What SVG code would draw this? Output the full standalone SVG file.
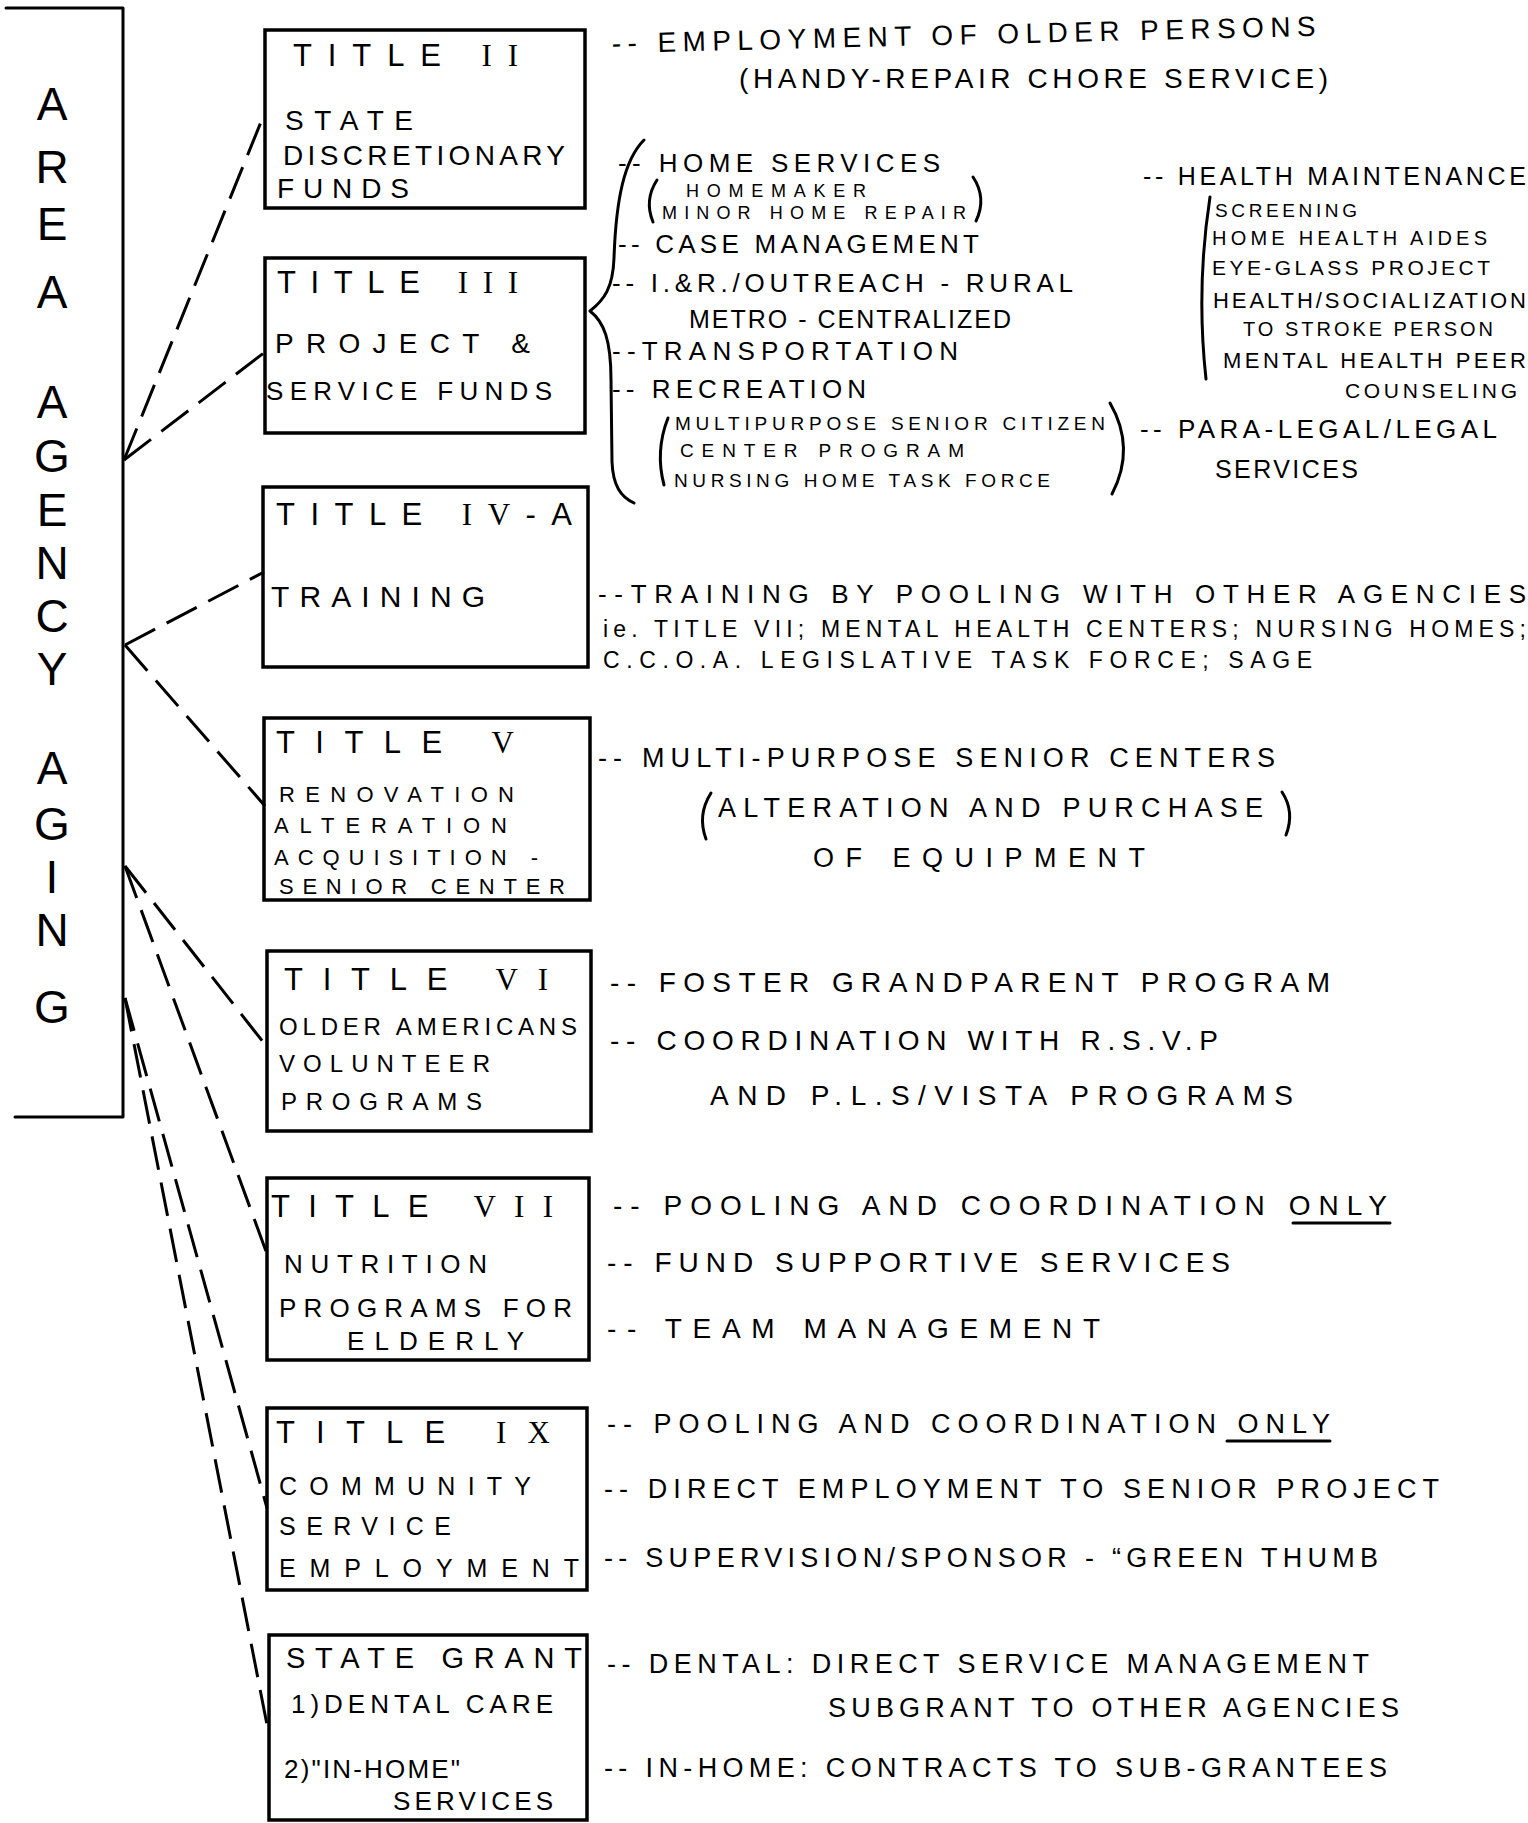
<svg xmlns="http://www.w3.org/2000/svg" width="1528" height="1823" viewBox="0 0 1528 1823">
<style>
  .bg { fill: #ffffff; }
  .box { fill: none; stroke: #000; stroke-width: 3.5; }
  .ln { fill: none; stroke: #000; stroke-width: 3; stroke-linecap: round; stroke-linejoin: round; }
  .conn { fill: none; stroke: #000; stroke-width: 3; stroke-dasharray: 34 13; }
  text { font-family: "Liberation Sans", Arial, sans-serif; fill: #000; }
  .rn { font-family: "Liberation Serif", "Times New Roman", serif; }
  .big { font-size: 46px; }
  .ttl { font-size: 31px; }
</style>
<rect class="bg" x="0" y="0" width="1528" height="1823"/>

<g id="area-agency-aging">
  <path class="ln" d="M 6 8 L 123 8 L 123 1117 L 15 1117"/>
  <text class="big" text-anchor="middle"><tspan x="52" y="120">A</tspan><tspan x="52" y="183">R</tspan><tspan x="52" y="240">E</tspan><tspan x="52" y="308">A</tspan><tspan x="52" y="418">A</tspan><tspan x="52" y="472">G</tspan><tspan x="52" y="526">E</tspan><tspan x="52" y="579">N</tspan><tspan x="52" y="632">C</tspan><tspan x="52" y="685">Y</tspan><tspan x="52" y="784">A</tspan><tspan x="52" y="840">G</tspan><tspan x="52" y="893">I</tspan><tspan x="52" y="946">N</tspan><tspan x="52" y="1023">G</tspan></text>
</g>

<g id="connectors">
  <line class="conn" x1="124" y1="460" x2="265" y2="112"/>
  <line class="conn" x1="124" y1="460" x2="265" y2="352"/>
  <line class="conn" x1="125" y1="645" x2="264" y2="572"/>
  <line class="conn" x1="125" y1="645" x2="265" y2="806"/>
  <line class="conn" x1="125" y1="866" x2="267" y2="1047"/>
  <line class="conn" x1="125" y1="866" x2="267" y2="1254"/>
  <line class="conn" x1="125" y1="998" x2="267" y2="1508"/>
  <line class="conn" x1="125" y1="998" x2="269" y2="1735"/>
</g>

<g id="title-ii">
  <rect class="box" x="265" y="30" width="320" height="178"/>
  <text class="ttl" x="293" y="66" textLength="225" lengthAdjust="spacing">TITLE <tspan class="rn">II</tspan></text>
  <text x="285" y="130" font-size="28" textLength="128" lengthAdjust="spacing">STATE</text>
  <text x="283" y="165" font-size="28" textLength="282" lengthAdjust="spacing">DISCRETIONARY</text>
  <text x="277" y="198" font-size="28" textLength="132" lengthAdjust="spacing">FUNDS</text>
</g>
<g id="title-ii-notes">
  <text x="612" y="53" font-size="28" textLength="704" lengthAdjust="spacing" transform="rotate(-1.4 612 53)">-- EMPLOYMENT  OF OLDER PERSONS</text>
  <text x="739" y="88" font-size="28" textLength="589" lengthAdjust="spacing">(HANDY-REPAIR CHORE SERVICE)</text>
</g>

<g id="title-iii">
  <rect class="box" x="265" y="258" width="320" height="175"/>
  <text class="ttl" x="277" y="293" textLength="241" lengthAdjust="spacing">TITLE <tspan class="rn">III</tspan></text>
  <text x="275" y="353" font-size="28" textLength="255" lengthAdjust="spacing">PROJECT &amp;</text>
  <text x="266" y="400" font-size="26" textLength="286" lengthAdjust="spacing">SERVICE FUNDS</text>
</g>
<g id="title-iii-notes">
  <path class="ln" d="M 644 140 C 624 160 616 200 614 258 C 613 288 604 300 590 311 C 604 322 611 340 611 380 L 612 462 C 613 486 621 497 634 503"/>
  <text x="618" y="172" font-size="26" textLength="322" lengthAdjust="spacing">-- HOME SERVICES</text>
  <path class="ln" d="M 657 180 Q 644 200 653 222"/>
  <path class="ln" d="M 973 177 Q 987 198 976 221"/>
  <text x="686" y="197" font-size="18" textLength="180" lengthAdjust="spacing">HOMEMAKER</text>
  <text x="662" y="219" font-size="18" textLength="304" lengthAdjust="spacing">MINOR HOME REPAIR</text>
  <text x="618" y="253" font-size="26" textLength="361" lengthAdjust="spacing">-- CASE MANAGEMENT</text>
  <text x="612" y="292" font-size="26" textLength="461" lengthAdjust="spacing">-- I.&amp;R./OUTREACH - RURAL</text>
  <text x="689" y="328" font-size="25" textLength="322" lengthAdjust="spacing">METRO - CENTRALIZED</text>
  <text x="612" y="360" font-size="26" textLength="346" lengthAdjust="spacing">--TRANSPORTATION</text>
  <text x="612" y="398" font-size="26" textLength="254" lengthAdjust="spacing">-- RECREATION</text>
  <path class="ln" d="M 668 418 Q 655 451 664 485"/>
  <path class="ln" d="M 1110 403 Q 1136 448 1112 494"/>
  <text x="675" y="430" font-size="19" textLength="430" lengthAdjust="spacing">MULTIPURPOSE SENIOR CITIZEN</text>
  <text x="680" y="457" font-size="19" textLength="284" lengthAdjust="spacing">CENTER PROGRAM</text>
  <text x="674" y="487" font-size="19" textLength="376" lengthAdjust="spacing">NURSING HOME TASK FORCE</text>
  <text x="1143" y="185" font-size="25" textLength="383" lengthAdjust="spacing">-- HEALTH MAINTENANCE</text>
  <path class="ln" d="M 1210 197 Q 1196 288 1206 379"/>
  <text x="1215" y="217" font-size="19" textLength="142" lengthAdjust="spacing">SCREENING</text>
  <text x="1212" y="245" font-size="20" textLength="275" lengthAdjust="spacing">HOME HEALTH AIDES</text>
  <text x="1212" y="275" font-size="21" textLength="278" lengthAdjust="spacing">EYE-GLASS PROJECT</text>
  <text x="1213" y="308" font-size="22" textLength="313" lengthAdjust="spacing">HEALTH/SOCIALIZATION</text>
  <text x="1243" y="336" font-size="20" textLength="250" lengthAdjust="spacing">TO STROKE PERSON</text>
  <text x="1223" y="368" font-size="22" textLength="303" lengthAdjust="spacing">MENTAL HEALTH PEER</text>
  <text x="1345" y="398" font-size="21" textLength="172" lengthAdjust="spacing">COUNSELING</text>
  <text x="1140" y="438" font-size="26" textLength="357" lengthAdjust="spacing">-- PARA-LEGAL/LEGAL</text>
  <text x="1215" y="478" font-size="25" textLength="143" lengthAdjust="spacing">SERVICES</text>
</g>

<g id="title-iv-a">
  <rect class="box" x="263" y="487" width="325" height="180"/>
  <text class="ttl" x="276" y="525" textLength="296" lengthAdjust="spacing">TITLE <tspan class="rn">IV</tspan>-A</text>
  <text x="271" y="607" font-size="30" textLength="214" lengthAdjust="spacing">TRAINING</text>
</g>
<g id="title-iv-a-notes">
  <text x="598" y="603" font-size="26" textLength="928" lengthAdjust="spacing">--TRAINING BY POOLING WITH OTHER AGENCIES</text>
  <text x="603" y="637" font-size="23" textLength="923" lengthAdjust="spacing">ie. TITLE VII; MENTAL HEALTH CENTERS; NURSING HOMES;</text>
  <text x="603" y="668" font-size="23" textLength="709" lengthAdjust="spacing">C.C.O.A. LEGISLATIVE TASK FORCE; SAGE</text>
</g>

<g id="title-v">
  <rect class="box" x="264" y="718" width="326" height="182"/>
  <text class="ttl" x="276" y="753" textLength="238" lengthAdjust="spacing">TITLE <tspan class="rn">V</tspan></text>
  <text x="279" y="802" font-size="22" textLength="235" lengthAdjust="spacing">RENOVATION</text>
  <text x="274" y="833" font-size="22" textLength="233" lengthAdjust="spacing">ALTERATION</text>
  <text x="274" y="865" font-size="22" textLength="264" lengthAdjust="spacing">ACQUISITION -</text>
  <text x="279" y="894" font-size="22" textLength="286" lengthAdjust="spacing">SENIOR CENTER</text>
</g>
<g id="title-v-notes">
  <text x="598" y="767" font-size="27" textLength="677" lengthAdjust="spacing">-- MULTI-PURPOSE  SENIOR CENTERS</text>
  <path class="ln" d="M 711 793 Q 697 815 706 839"/>
  <path class="ln" d="M 1282 792 Q 1295 812 1286 835"/>
  <text x="718" y="817" font-size="27" textLength="545" lengthAdjust="spacing">ALTERATION AND PURCHASE</text>
  <text x="813" y="867" font-size="27" textLength="332" lengthAdjust="spacing">OF EQUIPMENT</text>
</g>

<g id="title-vi">
  <rect class="box" x="267" y="951" width="324" height="180"/>
  <text class="ttl" x="284" y="990" textLength="264" lengthAdjust="spacing">TITLE <tspan class="rn">VI</tspan></text>
  <text x="279" y="1035" font-size="24" textLength="298" lengthAdjust="spacing">OLDER AMERICANS</text>
  <text x="279" y="1072" font-size="24" textLength="211" lengthAdjust="spacing">VOLUNTEER</text>
  <text x="281" y="1110" font-size="24" textLength="201" lengthAdjust="spacing">PROGRAMS</text>
</g>
<g id="title-vi-notes">
  <text x="610" y="992" font-size="28" textLength="720" lengthAdjust="spacing">-- FOSTER GRANDPARENT PROGRAM</text>
  <text x="610" y="1050" font-size="28" textLength="608" lengthAdjust="spacing">-- COORDINATION WITH R.S.V.P</text>
  <text x="710" y="1105" font-size="28" textLength="583" lengthAdjust="spacing">AND P.L.S/VISTA PROGRAMS</text>
</g>

<g id="title-vii">
  <rect class="box" x="267" y="1178" width="322" height="182"/>
  <text class="ttl" x="271" y="1217" textLength="282" lengthAdjust="spacing">TITLE <tspan class="rn">VII</tspan></text>
  <text x="284" y="1273" font-size="26" textLength="203" lengthAdjust="spacing">NUTRITION</text>
  <text x="279" y="1317" font-size="26" textLength="293" lengthAdjust="spacing">PROGRAMS FOR</text>
  <text x="347" y="1350" font-size="26" textLength="177" lengthAdjust="spacing">ELDERLY</text>
</g>
<g id="title-vii-notes">
  <text x="613" y="1215" font-size="28" textLength="774" lengthAdjust="spacing">-- POOLING AND COORDINATION  ONLY</text>
  <line class="ln" x1="1293" y1="1223" x2="1390" y2="1223"/>
  <text x="607" y="1272" font-size="28" textLength="623" lengthAdjust="spacing">-- FUND SUPPORTIVE SERVICES</text>
  <text x="607" y="1338" font-size="28" textLength="493" lengthAdjust="spacing">-- TEAM MANAGEMENT</text>
</g>

<g id="title-ix">
  <rect class="box" x="267" y="1408" width="320" height="182"/>
  <text class="ttl" x="276" y="1443" textLength="274" lengthAdjust="spacing">TITLE <tspan class="rn">IX</tspan></text>
  <text x="279" y="1495" font-size="25" textLength="252" lengthAdjust="spacing">COMMUNITY</text>
  <text x="279" y="1535" font-size="25" textLength="172" lengthAdjust="spacing">SERVICE</text>
  <text x="279" y="1577" font-size="25" textLength="300" lengthAdjust="spacing">EMPLOYMENT</text>
</g>
<g id="title-ix-notes">
  <text x="607" y="1433" font-size="27" textLength="723" lengthAdjust="spacing">-- POOLING AND COORDINATION ONLY</text>
  <line class="ln" x1="1227" y1="1441" x2="1330" y2="1441"/>
  <text x="604" y="1498" font-size="27" textLength="835" lengthAdjust="spacing">-- DIRECT  EMPLOYMENT TO SENIOR PROJECT</text>
  <text x="604" y="1567" font-size="27" textLength="774" lengthAdjust="spacing">-- SUPERVISION/SPONSOR - “GREEN THUMB</text>
</g>

<g id="state-grant">
  <rect class="box" x="269" y="1635" width="318" height="185"/>
  <text x="286" y="1668" font-size="29" textLength="296" lengthAdjust="spacing">STATE GRANT</text>
  <text x="291" y="1713" font-size="26" textLength="262" lengthAdjust="spacing">1)DENTAL CARE</text>
  <text x="284" y="1778" font-size="26" textLength="176" lengthAdjust="spacing">2)"IN-HOME"</text>
  <text x="393" y="1810" font-size="26" textLength="160" lengthAdjust="spacing">SERVICES</text>
</g>
<g id="state-grant-notes">
  <text x="607" y="1673" font-size="27" textLength="762" lengthAdjust="spacing">-- DENTAL: DIRECT SERVICE MANAGEMENT</text>
  <text x="828" y="1717" font-size="27" textLength="571" lengthAdjust="spacing">SUBGRANT TO OTHER AGENCIES</text>
  <text x="604" y="1777" font-size="27" textLength="783" lengthAdjust="spacing">-- IN-HOME: CONTRACTS TO SUB-GRANTEES</text>
</g>
</svg>
